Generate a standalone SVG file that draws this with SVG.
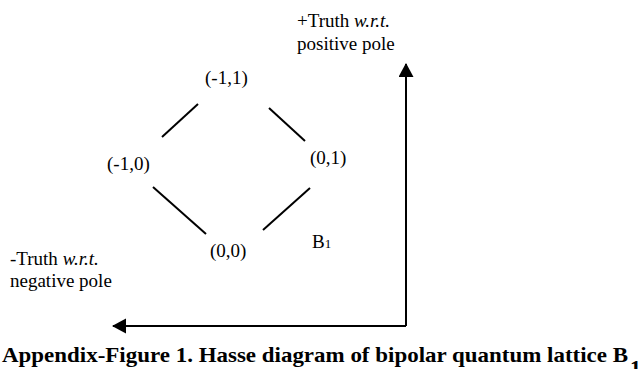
<svg xmlns="http://www.w3.org/2000/svg" width="640" height="369" viewBox="0 0 640 369">
<style>
text{font-family:"Liberation Serif","Times New Roman",serif;font-size:19px;fill:#000}
.it{font-style:italic}
.cap{font-weight:bold;font-size:22px}
.edge{stroke:#000;stroke-width:2;fill:none}
</style>
<defs>
<marker id="ah" markerUnits="userSpaceOnUse" markerWidth="14" markerHeight="16" refX="13" refY="7.5" orient="auto">
<path d="M0,0 L14,7.5 L0,15 Z" fill="#000"/>
</marker>
</defs>
<rect width="640" height="369" fill="#fff"/>
<g id="connectors">
<line class="edge" x1="162" y1="137" x2="198" y2="104"/>
<line class="edge" x1="269" y1="108" x2="305" y2="141"/>
<line class="edge" x1="153" y1="187" x2="206" y2="234"/>
<line class="edge" x1="263" y1="230" x2="310" y2="188"/>
<polyline class="edge" points="406,326 406,64" marker-end="url(#ah)"/>
<polyline class="edge" points="406,326 113,326" marker-end="url(#ah)"/>
</g>
<g id="n-11"><text x="205" y="84">(-1,1)</text></g>
<g id="n-10"><text x="107" y="170">(-1,0)</text></g>
<g id="n01"><text x="310" y="164">(0,1)</text></g>
<g id="n00"><text x="210" y="257">(0,0)</text></g>
<g id="b1"><text x="312" y="248">B<tspan font-size="13">1</tspan></text></g>
<g id="pos"><text x="297" y="27">+Truth <tspan class="it">w.r.t.</tspan></text><text x="297" y="50">positive pole</text></g>
<g id="neg"><text x="10" y="265">-Truth <tspan class="it">w.r.t.</tspan></text><text x="10" y="287">negative pole</text></g>
<g id="caption"><text class="cap" x="2" y="362" textLength="626" lengthAdjust="spacingAndGlyphs">Appendix-Figure 1. Hasse diagram of bipolar quantum lattice B</text><text class="cap" x="630" y="375" font-size="14">1</text></g>
</svg>
